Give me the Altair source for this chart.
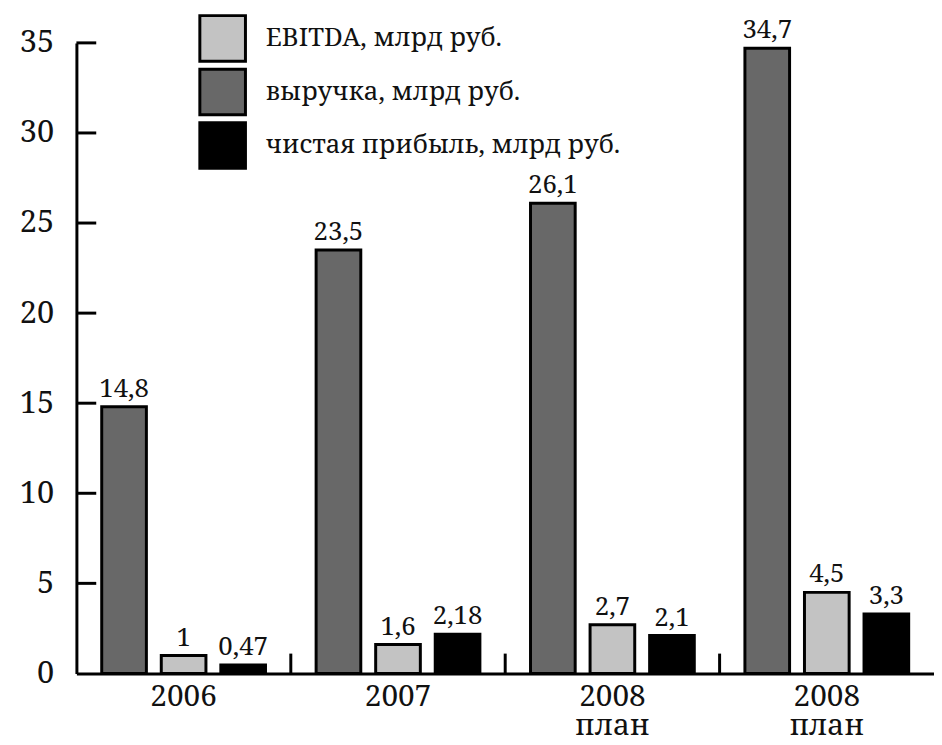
import json
import altair as alt
import pandas as pd

groups = ["2006", "2007", "2008 план", "2008 план"]
series = ["EBITDA, млрд руб.", "выручка, млрд руб.", "чистая прибыль, млрд руб."]
ebitda = [1, 1.6, 2.7, 4.5]
revenue = [14.8, 23.5, 26.1, 34.7]
profit = [0.47, 2.18, 2.1, 3.3]
ebitda_lbl = ["1", "1,6", "2,7", "4,5"]
revenue_lbl = ["14,8", "23,5", "26,1", "34,7"]
profit_lbl = ["0,47", "2,18", "2,1", "3,3"]
bar_order = [series[1], series[0], series[2]]
colors = ["#c3c3c3", "#686868", "#000000"]
y_ticks = [0, 5, 10, 15, 20, 25, 30, 35]
separators = [1, 2, 3]

FONT = "Noto Serif"

rows = []
for i in range(len(groups)):
    for s, vals, lbls in zip(series, [ebitda, revenue, profit], [ebitda_lbl, revenue_lbl, profit_lbl]):
        rows.append({"g": i, "series": s, "value": vals[i], "label": lbls[i]})
df = pd.DataFrame(rows)
sep_df = pd.DataFrame({"g": separators})
tick_df = pd.DataFrame({"v": [t for t in y_ticks if t > 0]})

label_expr = "split(" + json.dumps(groups, ensure_ascii=False) + "[datum.value], ' ')"

x_scale = alt.Scale(paddingInner=0, paddingOuter=0, domain=list(range(len(groups))))
x_axis = alt.Axis(title=None, labelExpr=label_expr, ticks=False, domainWidth=3,
                  domainColor="black", labelFont=FONT, labelFontSize=30, labelColor="#111",
                  labelPadding=8, labelLineHeight=30, labelAngle=0, labelBaseline="top")
y_scale = alt.Scale(domain=[0, 35], nice=False)
y_axis = alt.Axis(title=None, values=y_ticks, ticks=False, grid=False, domainWidth=3,
                  domainColor="black", labelFont=FONT, labelFontSize=31, labelColor="#111",
                  labelPadding=23)

x_enc = alt.X("g:O", scale=x_scale, axis=x_axis)
xo_enc = alt.XOffset("series:N", sort=bar_order,
                     scale=alt.Scale(paddingInner=0.25, paddingOuter=0.425))
y_enc = alt.Y("value:Q", scale=y_scale, axis=y_axis)

bars = alt.Chart(df).mark_bar(stroke="black", strokeWidth=3).encode(
    x=x_enc,
    xOffset=xo_enc,
    y=y_enc,
    color=alt.Color("series:N", scale=alt.Scale(domain=series, range=colors),
                    legend=alt.Legend(title=None, orient="none", legendX=123, legendY=-29,
                                      symbolType="square", symbolSize=2116,
                                      symbolStrokeColor="black", symbolStrokeWidth=3,
                                      symbolOpacity=1, labelFont=FONT, labelFontSize=26,
                                      labelColor="#111", labelOffset=19, rowPadding=-6,
                                      padding=0, labelLimit=500)),
)

texts = alt.Chart(df).mark_text(dy=-5, baseline="bottom", font=FONT, fontSize=26,
                                color="#111").encode(
    x=x_enc, xOffset=xo_enc, y=y_enc, text="label:N")

seps = alt.Chart(sep_df).mark_rule(strokeWidth=3, color="black").encode(
    x=alt.X("g:O", scale=x_scale, axis=x_axis, bandPosition=0),
    y=alt.value(616), y2=alt.value(636))

yticks = alt.Chart(tick_df).mark_rule(strokeWidth=3, color="black").encode(
    y=alt.Y("v:Q", scale=y_scale, axis=y_axis),
    x=alt.value(0), x2=alt.value(20))

chart = alt.layer(bars, texts, seps, yticks).properties(
    width=865, height=636,
    autosize=alt.AutoSizeParams(type="none"),
    padding={"left": 69, "top": 32, "right": 0, "bottom": 69},
).configure_view(stroke=None)

chart.save("out.html", embed_options={"renderer": "svg", "actions": False})
